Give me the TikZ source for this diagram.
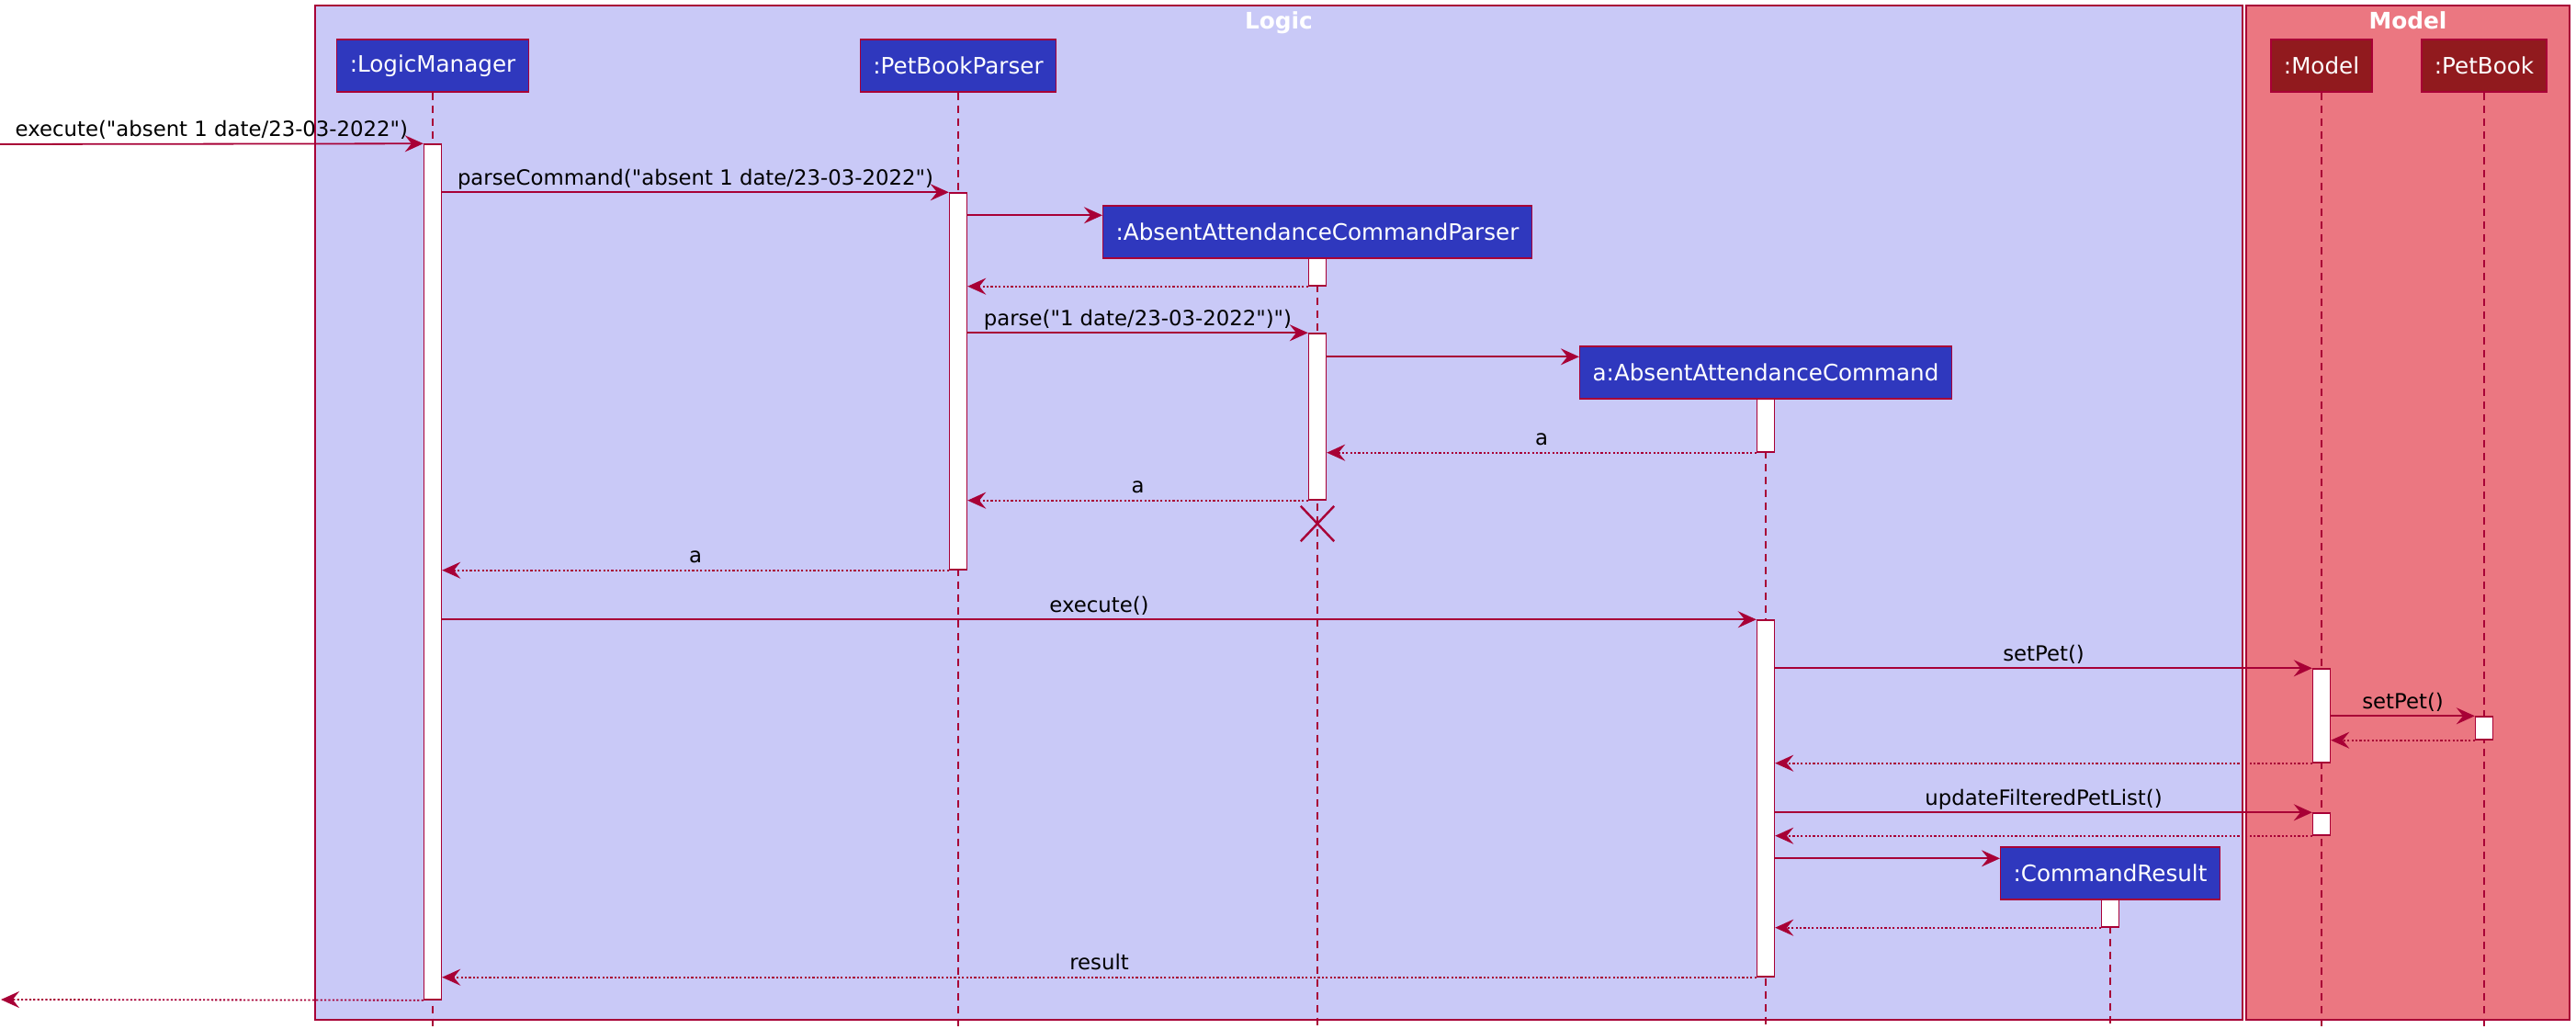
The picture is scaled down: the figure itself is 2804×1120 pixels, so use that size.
\documentclass[tikz,border=0pt]{standalone}
\usepackage{fontspec}
\setmainfont{DejaVu Sans}[Ligatures=TeXOff]
\usetikzlibrary{arrows.meta,calc,shapes.misc}

\definecolor{logicbg}{RGB}{201,201,247}
\definecolor{modelbg}{RGB}{235,119,129}
\definecolor{logicfill}{RGB}{47,56,190}
\definecolor{modelfill}{RGB}{145,26,30}
\definecolor{seqline}{RGB}{168,0,54}

\tikzset{
  part/.style={draw=seqline, line width=0.35pt, text=white, minimum height=14.25pt, inner xsep=3.5pt, inner ysep=0pt, font=\fontsize{6.15}{7}\selectfont},
  logicpart/.style={part, fill=logicfill},
  modelpart/.style={part, fill=modelfill},
  act/.style={draw=seqline, fill=white, line width=0.35pt, minimum width=4.75pt, inner sep=0pt},
  life/.style={draw=seqline, line width=0.3pt, dash pattern=on 2pt off 1.5pt},
  msg/.style={draw=seqline, line width=0.45pt, -{Stealth[length=5pt,width=4.5pt,inset=1.8pt]}},
  ret/.style={msg, dash pattern=on 0.55pt off 0.55pt},
  lbl/.style={midway, anchor=base, yshift=2pt, inner sep=0pt, text=black, font=\fontsize{5.7}{6.5}\selectfont},
  grp/.style={draw=seqline, line width=0.35pt},
  grptitle/.style={anchor=base, text=white, font=\fontsize{6.2}{7}\selectfont\bfseries},
  destroy/.style={cross out, draw=seqline, line width=0.6pt, minimum width=8.5pt, minimum height=9pt, inner sep=0pt}
}

\begin{document}
\begin{tikzpicture}[x=0.25pt, y=-0.25pt]
\useasboundingbox (0,0) rectangle (2804,1120);
\filldraw[grp, fill=logicbg] (343,6) rectangle (2441,1110);
\filldraw[grp, fill=modelbg] (2445,6) rectangle (2797,1110);
\node[grptitle] (logic) at (1392,32) {Logic};
\node[grptitle] (model) at (2621,32) {Model};

\node[logicpart] (lm) at (471,71.5) {:LogicManager};
\node[logicpart] (pbp) at (1043,71.5) {:PetBookParser};
\node[logicpart] (acp) at (1434,252.5) {:AbsentAttendanceCommandParser};
\node[logicpart] (ac) at (1922,405.5) {a:AbsentAttendanceCommand};
\node[logicpart] (cr) at (2297,950.5) {:CommandResult};
\node[modelpart] (md) at (2527,71.5) {:Model};
\node[modelpart] (pb) at (2704,71.5) {:PetBook};

\coordinate (bottom) at (0,1120);
\foreach \p in {lm,pbp,acp,ac,cr,md,pb}
  \draw[life] (\p.south) -- (\p.south |- bottom);

\node[act, minimum height=232.75pt] (lmA) at (471,622.5) {};
\node[act, minimum height=102.5pt] (pbpA) at (1043,415) {};
\node[act, minimum height=7.5pt] (acpA) at (1434,296) {};
\node[act, minimum height=45.25pt] (acpB) at (1434,453.5) {};
\node[act, minimum height=14.5pt] (acA) at (1922,463) {};
\node[act, minimum height=97pt] (acB) at (1922,869) {};
\node[act, minimum height=25.5pt] (mA) at (2527,779) {};
\node[act, minimum height=6pt] (mB) at (2527,897) {};
\node[act, minimum height=6.25pt] (pbA) at (2704,792.5) {};
\node[act, minimum height=7.5pt] (crA) at (2297,994) {};

\coordinate (in) at (0,157);
\coordinate (out) at (1,1088);
\coordinate (acpin) at ($(acp.north west)+(0,11)$);
\coordinate (acin) at ($(ac.north west)+(0,12)$);
\coordinate (crin) at ($(cr.north west)+(0,13)$);

\draw[msg] (in) -- (lmA.north west) node[lbl] {execute("absent 1 date/23-03-2022")};
\draw[msg] (lmA.east |- pbpA.north west) -- (pbpA.north west) node[lbl] {parseCommand("absent 1 date/23-03-2022")};
\draw[msg] (pbpA.east |- acpin) -- (acpin);
\draw[ret] (acpA.south west) -- (pbpA.east |- acpA.south west);
\draw[msg] (pbpA.east |- acpB.north west) -- (acpB.north west) node[lbl] {parse("1 date/23-03-2022")")};
\draw[msg] (acpB.east |- acin) -- (acin);
\draw[ret] (acA.south west) -- (acpB.east |- acA.south west) node[lbl] {a};
\draw[ret] (acpB.south west) -- (pbpA.east |- acpB.south west) node[lbl] {a};
\node[destroy] (acpx) at (1434,570) {};
\draw[ret] (pbpA.south west) -- (lmA.east |- pbpA.south west) node[lbl] {a};
\draw[msg] (lmA.east |- acB.north west) -- (acB.north west) node[lbl] {execute()};
\draw[msg] (acB.east |- mA.north west) -- (mA.north west) node[lbl] {setPet()};
\draw[msg] (mA.east |- pbA.north west) -- (pbA.north west) node[lbl] {setPet()};
\draw[ret] (pbA.south west) -- (mA.east |- pbA.south west);
\draw[ret] (mA.south west) -- (acB.east |- mA.south west);
\draw[msg] (acB.east |- mB.north west) -- (mB.north west) node[lbl] {updateFilteredPetList()};
\draw[ret] (mB.south west) -- (acB.east |- mB.south west);
\draw[msg] (acB.east |- crin) -- (crin);
\draw[ret] (crA.south west) -- (acB.east |- crA.south west);
\draw[ret] (acB.south west) -- (lmA.east |- acB.south west) node[lbl] {result};
\draw[ret] (lmA.south west) -- (out);
\end{tikzpicture}
\end{document}
